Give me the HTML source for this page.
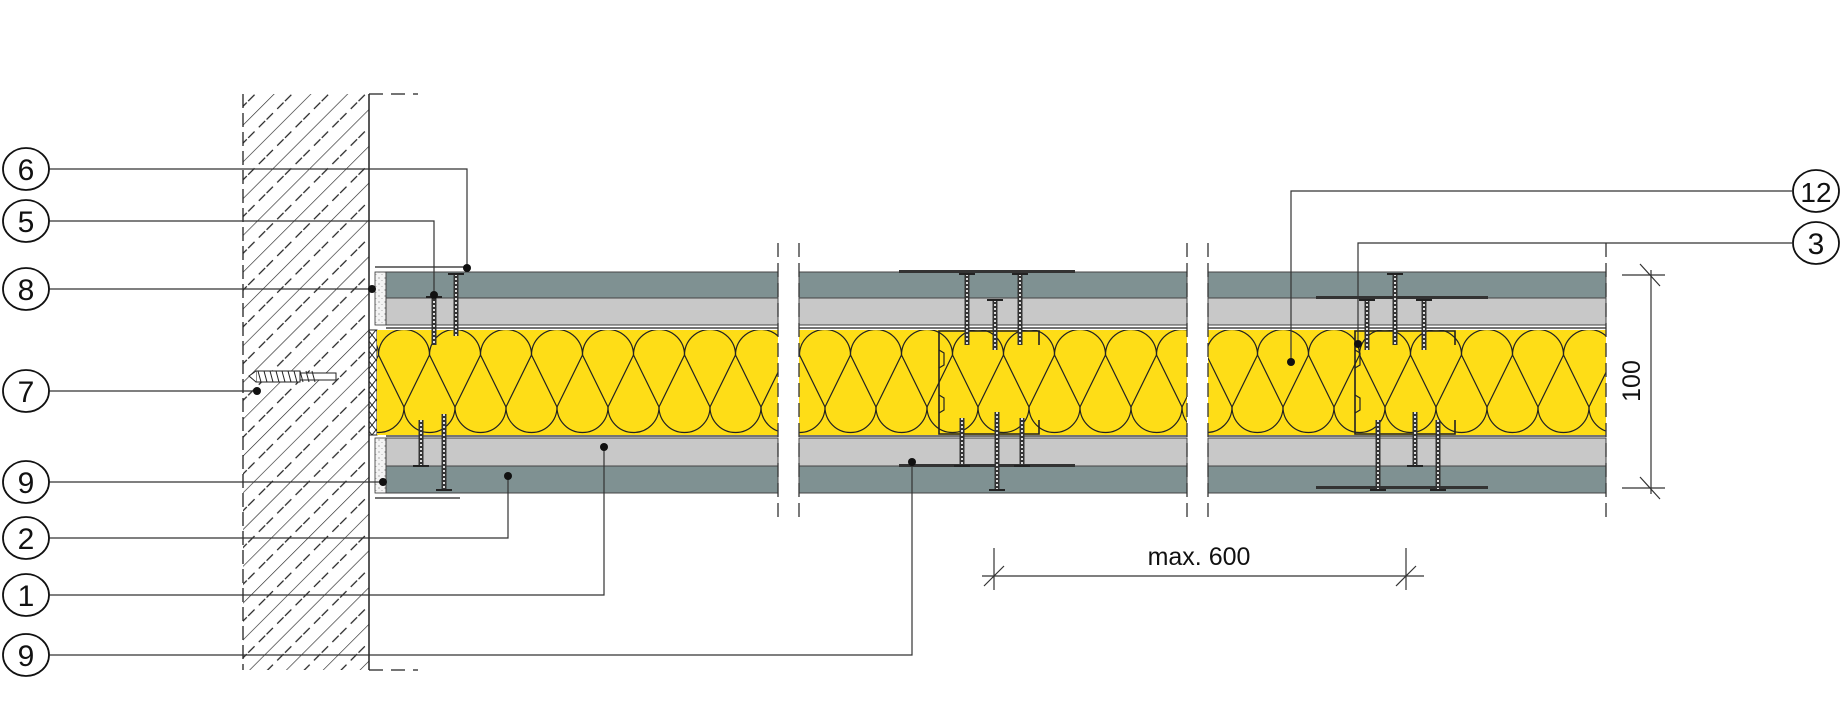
<!DOCTYPE html>
<html><head><meta charset="utf-8"><style>
html,body{margin:0;padding:0;background:#fff}
svg{display:block}
text{font-family:"Liberation Sans",sans-serif}
</style></head><body>
<svg id="s" width="1843" height="709" viewBox="0 0 1843 709" xmlns="http://www.w3.org/2000/svg">
<defs>
<pattern id="hatch" patternUnits="userSpaceOnUse" width="26" height="26" patternTransform="rotate(-45)">
<line x1="0" y1="0" x2="26" y2="0" stroke="#222" stroke-width="1.3"/>
<line x1="0" y1="13" x2="26" y2="13" stroke="#222" stroke-width="1.3" stroke-dasharray="9 6"/>
</pattern>
<pattern id="cross" patternUnits="userSpaceOnUse" width="8" height="10">
<path d="M0 0 L8 10 M8 0 L0 10" stroke="#222" stroke-width="1"/>
</pattern>
<pattern id="speck" patternUnits="userSpaceOnUse" width="6" height="6">
<rect width="6" height="6" fill="#f4f4f4"/>
<circle cx="1" cy="2" r="0.6" fill="#777"/><circle cx="4" cy="4.5" r="0.5" fill="#999"/>
</pattern>
</defs>
<rect x="243" y="94" width="126" height="576" fill="url(#hatch)"/>
<line x1="243" y1="94" x2="243" y2="670" stroke="#222" stroke-width="1.3" stroke-dasharray="14 5"/>
<line x1="369" y1="94" x2="369" y2="670" stroke="#222" stroke-width="1.5"/>
<line x1="369" y1="94" x2="418" y2="94" stroke="#222" stroke-width="1.3" stroke-dasharray="14 8"/>
<line x1="369" y1="670" x2="418" y2="670" stroke="#222" stroke-width="1.3" stroke-dasharray="14 8"/>
<rect x="375" y="272" width="11" height="53" fill="url(#speck)" stroke="#333" stroke-width="0.8"/>
<rect x="375" y="438" width="11" height="55" fill="url(#speck)" stroke="#333" stroke-width="0.8"/>
<rect x="369" y="330" width="8" height="105" fill="url(#cross)" stroke="#222" stroke-width="1"/>
<line x1="375" y1="267" x2="465" y2="267" stroke="#222" stroke-width="1.3"/>
<line x1="375" y1="498" x2="460" y2="498" stroke="#222" stroke-width="1.3"/>
<g id="layers"></g>
<g id="ins"></g>
<g id="misc" stroke="#222" fill="none"></g>
<g stroke="#222" stroke-width="1" fill="#fff">
<rect x="256" y="371" width="44" height="11"/>
<rect x="300" y="373" width="36" height="7"/>
<path d="M256 371 L249 376 L256 382"/>
</g>
<g stroke="#222" stroke-width="1">
<path d="M258 371 l3 11 m3 -11 l3 11 m3 -11 l3 11 m3 -11 l3 11 m3 -11 l3 11 m3 -11 l3 11 m3 -11 l3 11 m3 -11 l3 11 m3 -11 l3 11 m3 -11 l3 11"/>
</g>
<g stroke="#333" stroke-width="1.3" stroke-dasharray="14 6">
<line x1="778" y1="243" x2="778" y2="520"/><line x1="799" y1="243" x2="799" y2="520"/>
<line x1="1187" y1="243" x2="1187" y2="520"/><line x1="1208" y1="243" x2="1208" y2="520"/>
<line x1="1606" y1="243" x2="1606" y2="520"/>
</g>
<g stroke="#333" stroke-width="1.2" fill="none">
<path d="M49 169 H467 V269"/>
<path d="M49 221 H434 V295"/>
<path d="M49 289 H371"/>
<path d="M49 391 H257"/>
<path d="M49 482 H382"/>
<path d="M49 538 H508 V476"/>
<path d="M49 595 H604 V447"/>
<path d="M49 655 H912 V462"/>
<path d="M1792 191 H1291 V362"/>
<path d="M1792 243 H1358 V344"/>
</g>
<g fill="#111">
<circle cx="467" cy="268" r="4"/><circle cx="434" cy="295" r="4"/><circle cx="372" cy="289" r="4"/>
<circle cx="257" cy="391" r="4"/><circle cx="383" cy="482" r="4"/><circle cx="508" cy="476" r="4"/>
<circle cx="604" cy="447" r="4"/><circle cx="912" cy="462" r="4"/><circle cx="1291" cy="362" r="4"/>
<circle cx="1358" cy="344" r="4"/>
</g>
<g stroke="#111" stroke-width="1.8" fill="#fff">
<ellipse cx="26" cy="169" rx="23" ry="21"/><ellipse cx="26" cy="221" rx="23" ry="21"/>
<ellipse cx="26" cy="289" rx="23" ry="21"/><ellipse cx="26" cy="391" rx="23" ry="21"/>
<ellipse cx="26" cy="482" rx="23" ry="21"/><ellipse cx="26" cy="538" rx="23" ry="21"/>
<ellipse cx="26" cy="595" rx="23" ry="21"/><ellipse cx="26" cy="655" rx="23" ry="21"/>
<ellipse cx="1816" cy="191" rx="23" ry="21"/><ellipse cx="1816" cy="243" rx="23" ry="21"/>
</g>
<g font-size="30" fill="#111" text-anchor="middle">
<text x="26" y="180">6</text><text x="26" y="232">5</text><text x="26" y="300">8</text>
<text x="26" y="402">7</text><text x="26" y="493">9</text><text x="26" y="549">2</text>
<text x="26" y="606">1</text><text x="26" y="666">9</text>
<text x="1816" y="202" font-size="28">12</text><text x="1816" y="254">3</text>
</g>
<g stroke="#333" stroke-width="1.2">
<line x1="1651" y1="270" x2="1651" y2="494"/>
<line x1="1622" y1="275" x2="1665" y2="275"/><line x1="1640" y1="264" x2="1660" y2="286"/>
<line x1="1622" y1="488" x2="1665" y2="488"/><line x1="1640" y1="477" x2="1660" y2="499"/>
<line x1="982" y1="576" x2="1424" y2="576"/>
<line x1="994" y1="548" x2="994" y2="590"/><line x1="984" y1="586" x2="1004" y2="566"/>
<line x1="1406" y1="548" x2="1406" y2="590"/><line x1="1396" y1="586" x2="1416" y2="566"/>
</g>
<text x="1199" y="565" font-size="25" fill="#111" text-anchor="middle">max. 600</text>
<text transform="translate(1640,381) rotate(-90)" font-size="25" fill="#111" text-anchor="middle">100</text>
</svg>
<script>
var NS="http://www.w3.org/2000/svg";
function el(p,t,a){var e=document.createElementNS(NS,t);for(var k in a)e.setAttribute(k,a[k]);p.appendChild(e);return e;}
var L=document.getElementById("layers"),I=document.getElementById("ins"),M=document.getElementById("misc");
var secs=[[386,778],[799,1187],[1208,1606]];
var starts=[404,825,1232];
secs.forEach(function(s,i){
 var x0=i==0?377:s[0];
 el(L,"rect",{x:s[0],y:272,width:s[1]-s[0],height:26,fill:"#7f9192",stroke:"#444","stroke-width":1});
 el(L,"rect",{x:s[0],y:298,width:s[1]-s[0],height:27,fill:"#c8c8c8",stroke:"#444","stroke-width":1});
 el(L,"rect",{x:s[0],y:438,width:s[1]-s[0],height:28,fill:"#c8c8c8",stroke:"#444","stroke-width":1});
 el(L,"rect",{x:s[0],y:466,width:s[1]-s[0],height:27,fill:"#7f9192",stroke:"#444","stroke-width":1});
 el(L,"line",{x1:s[0],y1:328,x2:s[1],y2:328,stroke:"#222","stroke-width":1.3});
 el(L,"line",{x1:s[0],y1:436,x2:s[1],y2:436,stroke:"#222","stroke-width":1.3});
 el(L,"rect",{x:x0,y:330,width:s[1]-x0,height:105,fill:"#fedd17"});
 var cid="c"+i;var cp=el(I,"clipPath",{id:cid});el(cp,"rect",{x:x0,y:330,width:s[1]-x0,height:105});
 var g=el(I,"g",{"clip-path":"url(#"+cid+")",stroke:"#222","stroke-width":1.2,fill:"none"});
 var r=25.5,p=51;
 for(var c=starts[i]-4*p;c<s[1]+2*p;c+=p){
  el(g,"path",{d:"M"+(c-r)+" 355 A"+r+" "+r+" 0 0 1 "+(c+r)+" 355"});
  var b=c+r;
  el(g,"path",{d:"M"+(b-r)+" 407 A"+r+" "+r+" 0 0 0 "+(b+r)+" 407"});
  el(g,"path",{d:"M"+c+" 407 L"+(c+r)+" 355 L"+(c+p)+" 407"});
 }
});
function stud(x){
 el(M,"path",{d:"M"+(x+100)+" 345 V331 H"+x+" V434 H"+(x+100)+" V420","stroke-width":1.6});
 el(M,"path",{d:"M"+x+" 350 l5 3 v12 l-5 3 M"+x+" 395 l5 3 v12 l-5 3","stroke-width":1.2});
}
stud(939);stud(1355);
el(M,"rect",{x:899,y:270,width:176,height:3,fill:"#333",stroke:"none"});
el(M,"rect",{x:899,y:464,width:176,height:3,fill:"#333",stroke:"none"});
el(M,"rect",{x:1316,y:296,width:172,height:3,fill:"#333",stroke:"none"});
el(M,"rect",{x:1316,y:486,width:172,height:3,fill:"#333",stroke:"none"});
function screw(x,y1,y2,up){
 el(M,"line",{x1:x,y1:y1,x2:x,y2:y2,"stroke-width":5,stroke:"#333"});
 el(M,"line",{x1:x,y1:y1,x2:x,y2:y2,"stroke-width":2,stroke:"#ddd","stroke-dasharray":"2 2"});
 var h=up?y2:y1;el(M,"line",{x1:x-8,y1:h,x2:x+8,y2:h,"stroke-width":2});
}
screw(434,297,345);screw(456,274,336);screw(421,420,466,1);screw(444,414,490,1);
screw(967,274,345);screw(995,300,350);screw(1020,274,345);
screw(962,418,466,1);screw(997,412,490,1);screw(1022,418,466,1);
screw(1367,300,350);screw(1395,274,345);screw(1424,300,350);
screw(1378,420,490,1);screw(1415,412,466,1);screw(1438,420,490,1);
</script>
</body></html>
